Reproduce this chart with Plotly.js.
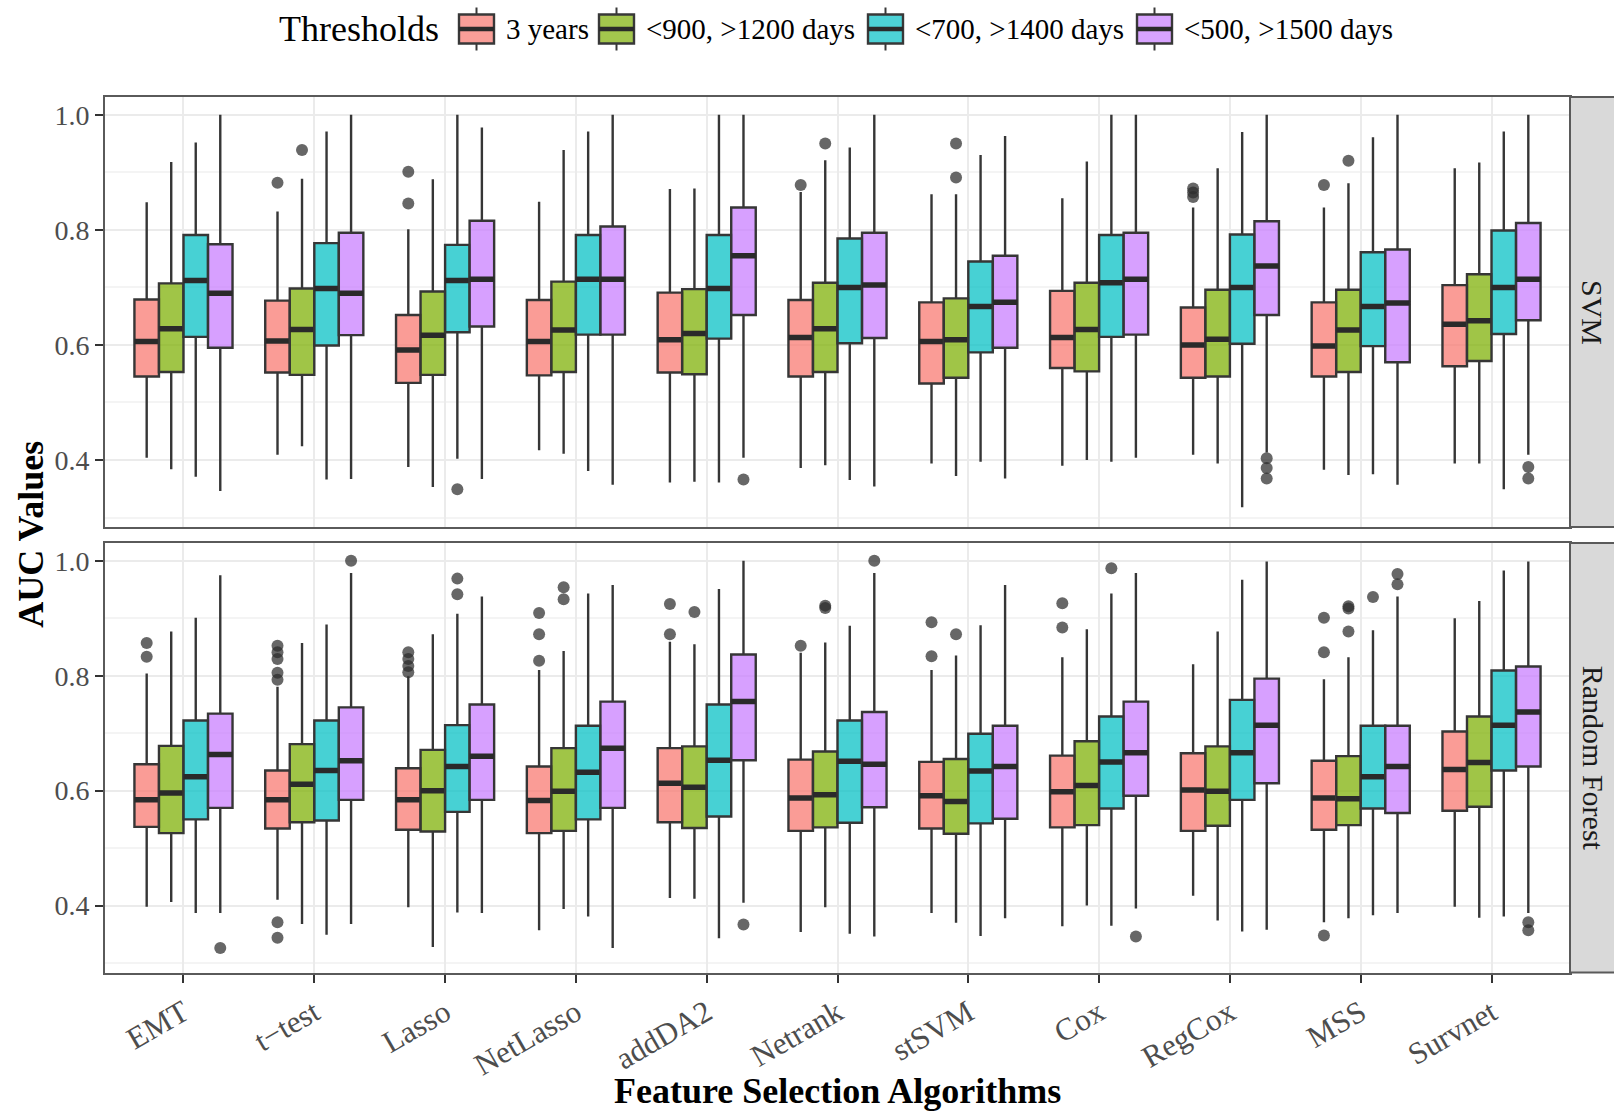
<!DOCTYPE html>
<html><head><meta charset="utf-8">
<script src="https://cdn.plot.ly/plotly-3.0.1.min.js"></script>
<style>html,body{margin:0;padding:0;background:#fff;} #chart{width:1614px;height:1114px;}</style>
</head><body><div id="chart"></div>
<script>
// ---------- data ----------
const categories = ['EMT','t\u2212test','Lasso','NetLasso','addDA2','Netrank','stSVM','Cox','RegCox','MSS','Survnet'];
const thresholds = ['3 years','<900, >1200 days','<700, >1400 days','<500, >1500 days'];

// SVM panel: rows = thresholds, columns = categories
const svmLower = [
  [0.404,0.409,0.388,0.417,0.361,0.386,0.394,0.390,0.409,0.383,0.394],
  [0.384,0.424,0.353,0.411,0.362,0.391,0.372,0.400,0.394,0.374,0.394],
  [0.371,0.366,0.402,0.381,0.361,0.365,0.397,0.397,0.318,0.375,0.349],
  [0.346,0.367,0.367,0.357,0.404,0.354,0.368,0.404,0.413,0.357,0.409]];
const svmQ1 = [
  [0.545,0.552,0.534,0.547,0.552,0.545,0.533,0.560,0.543,0.545,0.563],
  [0.553,0.548,0.548,0.553,0.549,0.553,0.543,0.554,0.545,0.553,0.572],
  [0.614,0.599,0.622,0.618,0.611,0.603,0.587,0.614,0.602,0.598,0.619],
  [0.595,0.617,0.632,0.618,0.652,0.612,0.595,0.618,0.652,0.570,0.643]];
const svmMedian = [
  [0.606,0.607,0.591,0.606,0.609,0.613,0.606,0.613,0.600,0.598,0.636],
  [0.628,0.627,0.617,0.626,0.620,0.628,0.609,0.627,0.610,0.626,0.642],
  [0.712,0.698,0.712,0.714,0.698,0.700,0.667,0.708,0.700,0.667,0.700],
  [0.690,0.690,0.714,0.714,0.755,0.704,0.674,0.714,0.737,0.673,0.714]];
const svmQ3 = [
  [0.679,0.677,0.652,0.678,0.691,0.678,0.674,0.694,0.665,0.674,0.704],
  [0.707,0.698,0.693,0.710,0.697,0.708,0.681,0.708,0.696,0.696,0.723],
  [0.791,0.777,0.774,0.791,0.791,0.785,0.745,0.791,0.792,0.761,0.799],
  [0.775,0.795,0.816,0.806,0.839,0.795,0.755,0.795,0.815,0.766,0.812]];
const svmUpper = [
  [0.848,0.832,0.801,0.849,0.871,0.866,0.862,0.855,0.839,0.839,0.907],
  [0.918,0.889,0.888,0.939,0.872,0.921,0.862,0.919,0.907,0.881,0.917],
  [0.952,0.971,1.000,0.971,1.000,0.943,0.930,1.000,0.970,0.961,0.971],
  [1.000,1.000,0.978,1.000,1.000,1.000,0.963,1.000,1.000,1.000,1.000]];
const svmOutCat = [
  ['t\u2212test','Lasso','Lasso','Netrank','RegCox','RegCox','RegCox','MSS'],
  ['t\u2212test','Netrank','stSVM','stSVM','MSS'],
  ['Lasso'],
  ['addDA2','RegCox','RegCox','RegCox','Survnet','Survnet']];
const svmOutVal = [
  [0.882,0.901,0.846,0.878,0.872,0.865,0.857,0.878],
  [0.939,0.950,0.950,0.891,0.920],
  [0.349],
  [0.366,0.403,0.386,0.368,0.388,0.368]];

// Random Forest panel
const rfLower = [
  [0.398,0.410,0.397,0.357,0.413,0.354,0.387,0.364,0.417,0.371,0.398],
  [0.406,0.368,0.328,0.394,0.412,0.397,0.370,0.400,0.374,0.378,0.379],
  [0.387,0.349,0.388,0.381,0.343,0.351,0.347,0.365,0.355,0.383,0.381],
  [0.387,0.368,0.387,0.326,0.405,0.346,0.378,0.395,0.358,0.387,0.387]];
const rfQ1 = [
  [0.537,0.534,0.532,0.526,0.545,0.530,0.534,0.536,0.530,0.532,0.565],
  [0.526,0.545,0.529,0.530,0.535,0.536,0.525,0.540,0.539,0.540,0.572],
  [0.550,0.548,0.563,0.550,0.555,0.544,0.543,0.569,0.584,0.569,0.635],
  [0.570,0.584,0.584,0.570,0.653,0.571,0.551,0.591,0.613,0.561,0.642]];
const rfMedian = [
  [0.584,0.584,0.584,0.583,0.613,0.587,0.591,0.598,0.601,0.587,0.637],
  [0.596,0.611,0.600,0.599,0.606,0.593,0.581,0.609,0.599,0.586,0.649],
  [0.624,0.635,0.642,0.632,0.653,0.651,0.634,0.650,0.666,0.624,0.714],
  [0.663,0.652,0.660,0.674,0.755,0.646,0.642,0.666,0.714,0.642,0.737]];
const rfQ3 = [
  [0.646,0.635,0.639,0.642,0.674,0.654,0.650,0.661,0.665,0.652,0.703],
  [0.678,0.681,0.671,0.674,0.677,0.668,0.655,0.686,0.677,0.660,0.729],
  [0.722,0.722,0.714,0.713,0.750,0.722,0.699,0.729,0.758,0.713,0.809],
  [0.734,0.745,0.750,0.755,0.837,0.737,0.713,0.755,0.795,0.713,0.816]];
const rfUpper = [
  [0.804,0.781,0.799,0.810,0.859,0.840,0.810,0.832,0.820,0.794,0.900],
  [0.877,0.857,0.872,0.843,0.855,0.858,0.835,0.881,0.877,0.832,0.930],
  [0.901,0.889,0.908,0.943,0.951,0.887,0.888,0.943,0.967,0.879,0.983],
  [0.975,0.979,0.938,0.958,1.000,0.979,0.958,0.979,0.999,0.938,0.999]];
const rfOutCat = [
  ['EMT','EMT','t\u2212test','t\u2212test','t\u2212test','t\u2212test','t\u2212test','t\u2212test','t\u2212test',
   'Lasso','Lasso','Lasso','Lasso','NetLasso','NetLasso','NetLasso','addDA2','addDA2','Netrank',
   'stSVM','stSVM','Cox','Cox','MSS','MSS','MSS'],
  ['NetLasso','NetLasso','addDA2','Netrank','Netrank','stSVM','MSS','MSS','MSS'],
  ['Lasso','Lasso','Cox','MSS'],
  ['EMT','t\u2212test','addDA2','Netrank','Cox','MSS','MSS','Survnet','Survnet']];
const rfOutVal = [
  [0.857,0.833,0.852,0.841,0.829,0.805,0.793,0.371,0.344,
   0.841,0.829,0.817,0.806,0.909,0.872,0.826,0.925,0.872,0.852,
   0.893,0.834,0.926,0.884,0.901,0.841,0.348],
  [0.954,0.933,0.911,0.922,0.918,0.872,0.921,0.917,0.877],
  [0.969,0.942,0.987,0.937],
  [0.326,1.000,0.367,1.000,0.346,0.977,0.959,0.371,0.357]];

// ---------- styling ----------
const FONT = 'Liberation Serif, Times New Roman, serif';
const fills = ['rgba(248,118,109,0.72)','rgba(124,174,0,0.72)','rgba(0,191,196,0.72)','rgba(199,124,255,0.72)'];
const keyFills = ['rgb(249,158,152)','rgb(163,198,77)','rgb(77,210,214)','rgb(216,163,255)'];
const BOXW = 0.75 / thresholds.length;
const offsets = thresholds.map((t,k) => (k - (thresholds.length-1)/2) * BOXW);

const traces = [];
function addPanel(xa, ya, lower, q1, med, q3, upper, outCat, outVal) {
  thresholds.forEach((t,k) => {
    const xs = categories.map((c,i) => i + 1 + offsets[k]);
    traces.push({type:'box', name:t, x:xs, q1:q1[k], median:med[k], q3:q3[k],
      lowerfence:lower[k], upperfence:upper[k], width:BOXW, whiskerwidth:0,
      fillcolor:fills[k], line:{color:'#363636', width:2.4},
      xaxis:xa, yaxis:ya, showlegend:false, hoverinfo:'skip'});
    // thicker median bar
    traces.push({type:'box', name:t, x:xs, q1:med[k], median:med[k], q3:med[k],
      lowerfence:med[k], upperfence:med[k], width:BOXW, whiskerwidth:0,
      fillcolor:'rgba(0,0,0,0)', line:{color:'#2a2a2a', width:5.5},
      xaxis:xa, yaxis:ya, showlegend:false, hoverinfo:'skip'});
    traces.push({type:'scatter', mode:'markers', name:t,
      x: outCat[k].map(c => categories.indexOf(c) + 1 + offsets[k]), y: outVal[k],
      marker:{size:12, color:'rgba(45,45,45,0.72)', line:{width:0}},
      xaxis:xa, yaxis:ya, showlegend:false, hoverinfo:'skip'});
  });
}
addPanel('x2','y2', svmLower, svmQ1, svmMedian, svmQ3, svmUpper, svmOutCat, svmOutVal);
addPanel('x','y', rfLower, rfQ1, rfMedian, rfQ3, rfUpper, rfOutCat, rfOutVal);

const W = 1614, H = 1114;
const px = v => v / W, py = v => 1 - v / H;
const panelL = 105, panelR = 1570;
const xDom = [px(panelL), px(panelR)];
const topDom = [py(527), py(97)];
const botDom = [py(972.5), py(543)];
const yRange = [0.2835, 1.031];

const baseX = {
  domain:xDom, range:[0.4, categories.length + 0.6],
  tickvals:categories.map((c,i)=>i+1), ticktext:categories,
  showgrid:true, gridcolor:'#ebebeb', gridwidth:2, zeroline:false,
  showline:true, mirror:true, linecolor:'#5a5a5a', linewidth:2,
};
const baseY = {
  range:yRange, tickvals:[0.4,0.6,0.8,1.0], ticktext:['0.4','0.6','0.8','1.0'],
  showgrid:true, gridcolor:'#ebebeb', gridwidth:2, zeroline:false,
  minor:{tickvals:[0.3,0.5,0.7,0.9], showgrid:true, gridcolor:'#f4f4f4', gridwidth:2, ticks:''},
  showline:true, mirror:true, linecolor:'#5a5a5a', linewidth:2,
  ticks:'outside', ticklen:8, tickwidth:2, tickcolor:'#333',
  tickfont:{family:FONT, size:28, color:'#4d4d4d'},
};

const shapes = [], annotations = [];
// facet strips
[['y2 domain','SVM',topDom],['y domain','Random Forest',botDom]].forEach(([yr,label,dom]) => {
  shapes.push({type:'rect', xref:'paper', yref:yr, x0:px(panelR), x1:1.01, y0:0, y1:1,
    fillcolor:'#d9d9d9', line:{color:'#5a5a5a', width:2}, layer:'above'});
  annotations.push({xref:'paper', yref:'paper', x:px(1593), y:(dom[0]+dom[1])/2, xanchor:'center', yanchor:'middle',
    text:label, showarrow:false, textangle:90, font:{family:FONT, size:30, color:'#1a1a1a'}});
});
// axis titles
annotations.push({xref:'paper', yref:'paper', x:(xDom[0]+xDom[1])/2, y:py(1091), xanchor:'center', yanchor:'middle',
  text:'<b>Feature Selection Algorithms</b>', showarrow:false, font:{family:FONT, size:36, color:'#000'}});
annotations.push({xref:'paper', yref:'paper', x:px(31), y:(topDom[1]+botDom[0])/2, xanchor:'center', yanchor:'middle',
  text:'<b>AUC Values</b>', showarrow:false, textangle:-90, font:{family:FONT, size:36, color:'#000'}});
// legend (drawn manually to mimic ggplot keys)
const legY = 29, keyW = 35, keyH = 29;
annotations.push({xref:'paper', yref:'paper', x:px(277), y:py(legY), xanchor:'left', yanchor:'middle',
  text:'Thresholds', showarrow:false, font:{family:FONT, size:36, color:'#000'}});
const keyLeft = [459, 599, 868, 1137];
thresholds.forEach((t,k) => {
  const x0 = keyLeft[k], xc = x0 + keyW/2;
  shapes.push({type:'line', xref:'paper', yref:'paper', x0:px(xc), x1:px(xc), y0:py(legY-keyH/2-7), y1:py(legY+keyH/2+7),
    line:{color:'#383838', width:2}});
  shapes.push({type:'rect', xref:'paper', yref:'paper', x0:px(x0), x1:px(x0+keyW), y0:py(legY+keyH/2), y1:py(legY-keyH/2),
    fillcolor:keyFills[k], line:{color:'#383838', width:2.4}});
  shapes.push({type:'line', xref:'paper', yref:'paper', x0:px(x0), x1:px(x0+keyW), y0:py(legY), y1:py(legY),
    line:{color:'#2a2a2a', width:4.5}});
  annotations.push({xref:'paper', yref:'paper', x:px(x0+keyW+10), y:py(legY), xanchor:'left', yanchor:'middle',
    text:t.replace(/</g,'&lt;').replace(/>/g,'&gt;'), showarrow:false, font:{family:FONT, size:29, color:'#000'}});
});

const layout = {
  width:W, height:H, autosize:false, margin:{l:0,r:0,t:0,b:0},
  paper_bgcolor:'#fff', plot_bgcolor:'#fff', showlegend:false,
  xaxis:Object.assign({}, baseX, {anchor:'y', ticks:'outside', ticklen:8, tickwidth:2, tickcolor:'#333',
    tickangle:-30, tickfont:{family:FONT, size:31, color:'#4d4d4d'}}),
  xaxis2:Object.assign({}, baseX, {anchor:'y2', matches:'x', showticklabels:false, ticks:''}),
  yaxis:Object.assign({}, baseY, {domain:botDom, anchor:'x'}),
  yaxis2:Object.assign({}, baseY, {domain:topDom, anchor:'x2'}),
  shapes, annotations,
};
Plotly.newPlot('chart', traces, layout, {staticPlot:true});
</script></body></html>
